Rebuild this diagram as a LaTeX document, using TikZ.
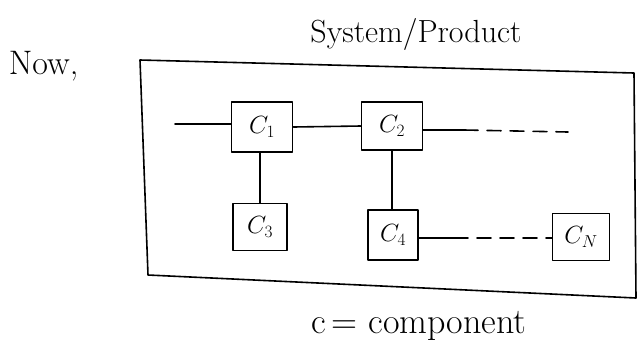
\documentclass[tikz,border=0pt]{standalone}
\begin{document}
\begin{tikzpicture}[x=1pt,y=-1pt,line width=1.6pt,line cap=round,line join=round,
  comp/.style={draw,inner sep=0pt,font=\fontsize{27}{30}\selectfont},
  label/.style={inner sep=0pt,font=\fontsize{32}{36}\selectfont},
  dashpart/.style={dash pattern=on 14pt off 9pt}]
\useasboundingbox (0,0) rectangle (640,360);

% headings and legend
\node[label] (title) at (416,34) {System/Product};
\node[label,anchor=west,font=\fontsize{34}{38}\selectfont] (now) at (8,66) {Now,};
\node[label,font=\fontsize{36}{40}\selectfont] (legend) at (419,326) {c\,= component};

% system boundary, drawn slightly skewed like a sketch
\coordinate (tl) at (140,60);
\coordinate (tr) at (634,73);
\coordinate (br) at (636,298);
\coordinate (bl) at (148,275);
\draw (tl) -- (tr) -- (br) -- (bl) -- cycle;

% components
\node[comp,minimum width=61pt,minimum height=50pt] (c1) at (262,127) {$C_1$};
\node[comp,minimum width=61pt,minimum height=48pt] (c2) at (392,126) {$C_2$};
\node[comp,minimum width=54pt,minimum height=47pt] (c3) at (260,227) {$C_3$};
\node[comp,minimum width=50pt,minimum height=50pt] (c4) at (393,235) {$C_4$};
\node[comp,minimum width=57pt,minimum height=47pt] (cn) at (581,237) {$C_N$};

% links between components
\coordinate (in) at (175,124);
\draw (in) -- (c1.west |- in);
\draw (c1.east) -- (c2.west);
\draw (c3.north) -- (c3.north |- c1.south);
\draw (c4.north -| c2.south) -- (c2.south);

% open-ended chains
\coordinate (c2a) at (464,130);
\coordinate (c2b) at (568,132);
\draw (c2.east |- c2a) -- (c2a);
\draw[dashpart] (c2a) -- (c2b);
\coordinate (c4a) at (454,238);
\draw (c4.east |- c4a) -- (c4a);
\draw[dashpart] (c4a) -- (cn.west |- c4a);
\end{tikzpicture}
\end{document}
